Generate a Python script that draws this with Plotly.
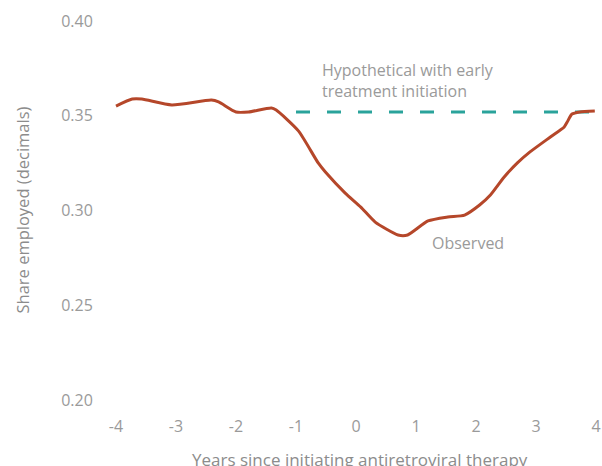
import plotly.graph_objects as go

years = [-4.0, -3.73, -3.57, -3.07, -2.41, -2.29, -2.0, -1.79, -1.41, -1.33, -0.96,
         -0.63, -0.51, -0.18, 0.08, 0.32, 0.70, 0.86, 1.20, 1.53, 1.81, 2.06, 2.24,
         2.47, 2.69, 2.90, 3.24, 3.47, 3.52, 3.60, 3.73, 3.98]
observed = [0.3551, 0.3588, 0.3588, 0.3557, 0.3583, 0.3573, 0.3520, 0.3520, 0.3541, 0.3530, 0.3420,
            0.3251, 0.3203, 0.3092, 0.3018, 0.2939, 0.2871, 0.2871, 0.2945, 0.2966, 0.2976, 0.3029, 0.3082,
            0.3177, 0.3251, 0.3309, 0.3388, 0.3441, 0.3467, 0.3509, 0.3520, 0.3525]
hyp_years = [-1.0, 4.0]
hypothetical = [0.352, 0.352]
x_ticks = [-4, -3, -2, -1, 0, 1, 2, 3, 4]
x_ticktext = ["-4", "-3", "-2", "-1", "0", "1", "2", "3", "4"]
y_ticks = [0.20, 0.25, 0.30, 0.35, 0.40]

FONT = "Open Sans"
TICK = "#9a9a9a"
TITLE = "#8c8c8c"
fig = go.Figure()
fig.add_trace(go.Scatter(x=hyp_years, y=hypothetical, mode="lines",
                         line=dict(color="#2aa39b", width=3, dash="14px,17px"),
                         showlegend=False, hoverinfo="skip"))
fig.add_trace(go.Scatter(x=years, y=observed, mode="lines",
                         line=dict(color="#b5472a", width=3, shape="spline", smoothing=0.6),
                         showlegend=False))

fig.add_annotation(x=-0.6, y=0.3686, xref="x", yref="y", xanchor="left", yanchor="middle",
                   text="Hypothetical with early<br>treatment initiation", showarrow=False,
                   align="left", font=dict(family=FONT, size=16, color=TICK))
fig.add_annotation(x=1.23, y=0.2829, xref="x", yref="y", xanchor="left", yanchor="middle",
                   text="Observed", showarrow=False, align="left",
                   font=dict(family=FONT, size=16, color=TICK))
# axis titles
fig.add_annotation(x=0.5, y=0, xref="paper", yref="paper", xanchor="center", yanchor="top",
                   xshift=4, yshift=-46,
                   text="Years since initiating antiretroviral therapy", showarrow=False,
                   font=dict(family=FONT, size=17, color=TITLE))
fig.add_annotation(x=0, y=0.5, xref="paper", yref="paper", xanchor="center", yanchor="middle",
                   xshift=-88, textangle=-90,
                   text="Share employed (decimals)", showarrow=False,
                   font=dict(family=FONT, size=16.5, color=TITLE))

fig.update_layout(
    width=602, height=466,
    margin=dict(l=110, r=0, t=21, b=66),
    plot_bgcolor="white", paper_bgcolor="white",
    font=dict(family=FONT, color=TICK, size=16),
    xaxis=dict(range=[-4.1, 4.1], tickvals=x_ticks, ticktext=x_ticktext,
               showgrid=False, zeroline=False, showline=False, automargin=False,
               ticks="outside", ticklen=12, tickcolor="rgba(0,0,0,0)",
               ticklabeloverflow="allow",
               tickfont=dict(size=16, color=TICK)),
    yaxis=dict(range=[0.2, 0.4], tickvals=y_ticks, tickformat=".2f",
               showgrid=False, zeroline=False, showline=False, automargin=False,
               ticks="outside", ticklen=13, tickcolor="rgba(0,0,0,0)",
               tickfont=dict(size=16, color=TICK)),
)

fig.write_html("out.html", config={"displayModeBar": False},
               post_script="document.body.style.margin='0';document.body.style.overflow='hidden';")
